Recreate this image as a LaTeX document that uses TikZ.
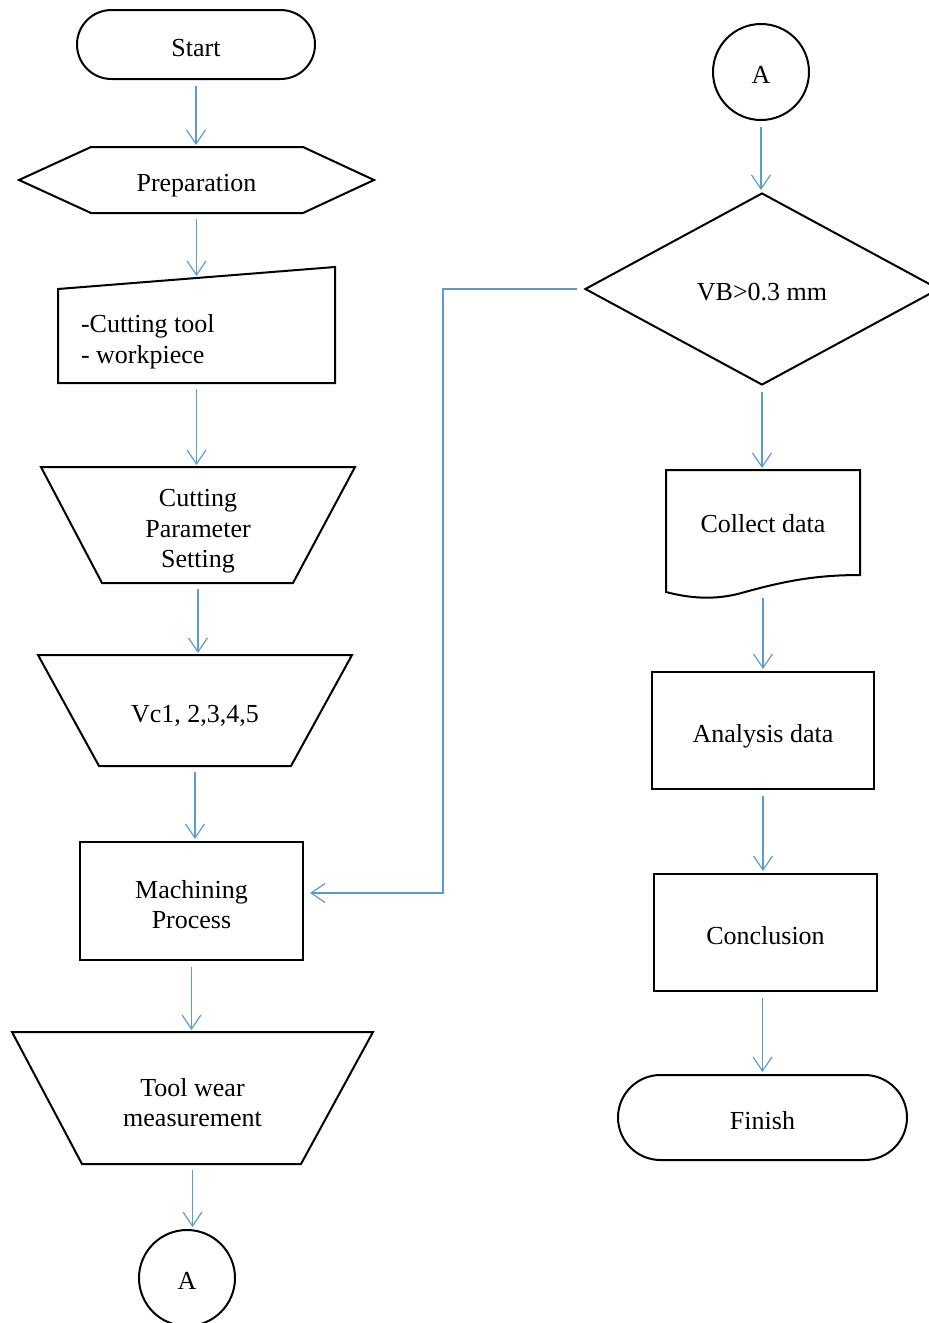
\documentclass[tikz,border=0pt]{standalone}
\usepackage{fontspec}
\setmainfont{Liberation Serif}
\usetikzlibrary{positioning, calc, shapes.geometric, shapes.misc, arrows.meta}
\definecolor{flowblue}{RGB}{91,155,213}
\tikzset{>={Straight Barb[length=14pt,width=19pt]}}

\begin{document}
\begin{tikzpicture}[x=1pt,y=1pt,line width=2pt,inner sep=0pt,font=\fontsize{26}{30.5}\selectfont]
  \tikzstyle{oneline}=[text height=23pt,text depth=0pt]
  \tikzstyle{terminal}=[rounded rectangle,draw,align=center,oneline]
  \tikzstyle{connector}=[circle,draw,minimum size=96pt,oneline]
  \tikzstyle{process}=[rectangle,draw,align=center,oneline]
  \tikzstyle{decision}=[diamond,draw,align=center,oneline]
  \tikzstyle{frame}=[rectangle,align=center,oneline]
  \tikzstyle{flow}=[->,draw=flowblue,line width=1.2pt,shorten <=6pt,shorten >=2pt]

  \useasboundingbox (0,0) rectangle (929,-1323);

  \node[terminal,minimum width=238pt,minimum height=69pt] (start) at (196,-44.5) {Start};

  \node[frame,minimum width=353pt,minimum height=64pt] (prep) at (196.5,-180) {Preparation};
  \draw (prep.west) -- ($(prep.north west)+(72,0)$) -- ($(prep.north east)+(-71,0)$) -- (prep.east)
    -- ($(prep.south east)+(-71,0)$) -- ($(prep.south west)+(72,0)$) -- cycle;

  \node[frame,minimum width=275pt,minimum height=114pt] (tools) at (196.5,-325) {};
  \draw (tools.south west) -- (tools.south east) -- (tools.north east) -- ($(tools.north west)+(0,-22)$) -- cycle;
  \node[anchor=west,align=left] (toolstxt) at (80,-341.5) {-Cutting tool\\- workpiece};
  \coordinate (toolstop) at ($(tools.north)+(0,-11)$);

  \node[frame,minimum width=312pt,minimum height=114pt,text height=85.5pt] (param) at (198,-525) {Cutting\\Parameter\\Setting};
  \draw (param.north west) -- (param.north east) -- ($(param.south east)+(-62,0)$) -- ($(param.south west)+(61,0)$) -- cycle;

  \node[frame,minimum width=312pt,minimum height=109pt] (vc) at (195,-710.5) {Vc1, 2,3,4,5};
  \draw (vc.north west) -- (vc.north east) -- ($(vc.south east)+(-61,0)$) -- ($(vc.south west)+(61,0)$) -- cycle;

  \node[process,minimum width=223pt,minimum height=118pt,text height=55pt] (mach) at (191.5,-901) {Machining\\Process};

  \node[frame,minimum width=359pt,minimum height=130pt,text height=57pt] (wear) at (192.5,-1098) {Tool wear\\measurement};
  \draw (wear.north west) -- (wear.north east) -- ($(wear.south east)+(-72,0)$) -- ($(wear.south west)+(70,0)$) -- cycle;

  \node[connector] (conA) at (187,-1278) {A};

  \node[connector] (conB) at (761,-72) {A};
  \node[decision,minimum width=354pt,minimum height=192pt] (dec) at (762,-289) {VB>0.3 mm};

  \node[frame,minimum width=192pt,minimum height=120pt] (coll) at (763,-531) {};
  \draw (coll.south west) -- (coll.north west) -- (coll.north east) -- ($(coll.south east)+(0,17)$)
    .. controls +(-44,0) and +(40,11) .. ($(coll.south)+(-18,0)$)
    .. controls +(-30,-9) and +(23,-6) .. (coll.south west) -- cycle;
  \node[oneline] (colltxt) at (763,-521) {Collect data};

  \node[process,minimum width=222pt,minimum height=117pt] (anal) at (763,-730.5) {Analysis data};
  \node[process,minimum width=223pt,minimum height=117pt] (concl) at (765.5,-932.5) {Conclusion};
  \node[terminal,minimum width=289pt,minimum height=85pt] (fin) at (762.5,-1117.5) {Finish};

  \coordinate (back) at (443,-893);

  \draw[flow] (start.south) -- (start.south |- prep.north);
  \draw[flow] (prep.south) -- (prep.south |- toolstop);
  \draw[flow] (tools.south) -- (tools.south |- param.north);
  \draw[flow] (param.south) -- (param.south |- vc.north);
  \draw[flow] (vc.south) -- (vc.south |- mach.north);
  \draw[flow] (mach.south) -- (mach.south |- wear.north);
  \draw[flow] (wear.south) -- (wear.south |- conA.north);

  \draw[flow] (conB.south) -- (conB.south |- dec.north);
  \draw[flow,shorten <=7pt,shorten >=6pt] (dec.west) -| (back) -- (back -| mach.east);
  \draw[flow] (dec.south) -- (dec.south |- coll.north);
  \draw[flow] (coll.south) -- (coll.south |- anal.north);
  \draw[flow] (anal.south) -- (anal.south |- concl.north);
  \draw[flow] (fin.north |- concl.south) -- (fin.north);
\end{tikzpicture}
\end{document}
